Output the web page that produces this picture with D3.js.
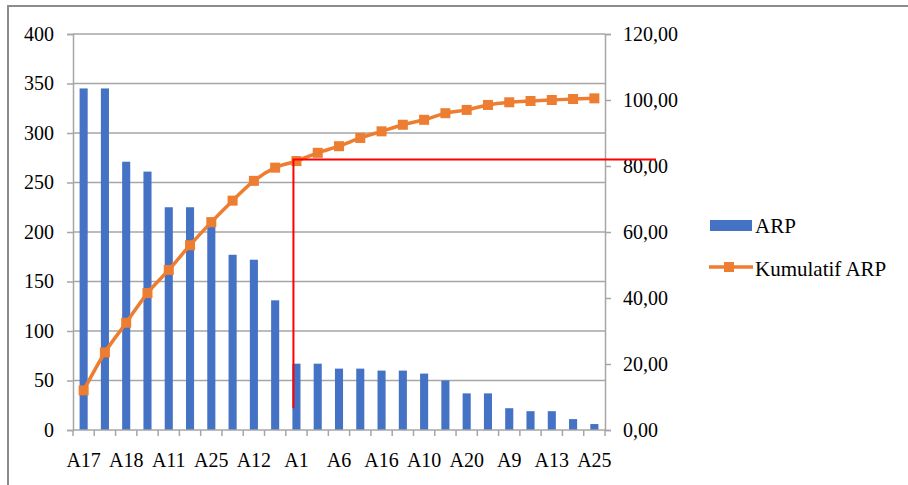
<!DOCTYPE html>
<html><head><meta charset="utf-8">
<script src="https://cdn.jsdelivr.net/npm/d3@7"></script>
<style>body{margin:0;background:#fff;}svg{display:block;} text{font-family:"Liberation Serif","Times New Roman",serif;}</style>
</head><body>
<svg id="c" width="908" height="485"></svg>
<script>
// Categories (only every other label is readable in the reference; hidden ones left blank)
const categoryLabels = ["A17","","A18","","A11","","A25","","A12","","A1","","A6","","A16","","A10","","A20","","A9","","A13","","A25"];
const arpValues = [345,345,271,261,225,225,205,177,172,131,67,67,62,62,60,60,57,50,37,37,22,19,19,11,6];
const kumulatifValues = [12,23.5,32.5,41.5,48.5,56,63,69.5,75.5,79.5,81.5,84,86,88.5,90.5,92.5,94,96,97,98.5,99.3,99.7,100,100.3,100.5];
const leftTicks = [0,50,100,150,200,250,300,350,400];
const rightTicks = [0,20,40,60,80,100,120];
const paretoIndex = 10, paretoLevel = 82, paretoBottom = 22;
const seriesNames = ["ARP","Kumulatif ARP"];

const svg = d3.select("#c");
const m = {l:73, r:605, t:34, b:430};
const idx = d3.range(arpValues.length);
const x = d3.scaleBand().domain(idx).range([m.l, m.r]).paddingInner(0.62).paddingOuter(0.31);
const xb = d3.scaleBand().domain(idx).range([m.l, m.r]);
const yL = d3.scaleLinear().domain([0,400]).range([m.b, m.t]);
const yR = d3.scaleLinear().domain([0,120]).range([m.b, m.t]);
const grey = "#a6a6a6";
const font = "'Liberation Serif', 'Times New Roman', serif";
const fs = 20;

// outer frame (top and left)
svg.append("path").attr("d","M8,485 V6 H908").attr("fill","none").attr("stroke","#8c8c8c").attr("stroke-width",2);

// gridlines
svg.append("g").selectAll("line").data(leftTicks.filter(d=>d>0)).join("line")
  .attr("x1",m.l).attr("x2",m.r).attr("y1",d=>yL(d)).attr("y2",d=>yL(d))
  .attr("stroke",grey).attr("stroke-width",1.5);

// left axis
const gL = svg.append("g").attr("transform",`translate(${m.l},0)`)
  .call(d3.axisLeft(yL).tickValues(leftTicks).tickSize(6).tickPadding(13).tickFormat(d3.format("d")));
gL.attr("font-family",null).attr("font-size",null);
gL.select(".domain").attr("stroke",grey).attr("stroke-width",1.5);
gL.selectAll(".tick line").attr("stroke",grey).attr("stroke-width",1.5);
gL.selectAll("text").style("font-family",font).style("font-size",fs+"px").attr("fill","#000");

// right axis
const fmtR = d => d3.format(".2f")(d).replace(".",",");
const gR = svg.append("g").attr("transform",`translate(${m.r},0)`)
  .call(d3.axisRight(yR).tickValues(rightTicks).tickSize(6).tickPadding(12).tickFormat(fmtR));
gR.attr("font-family",null).attr("font-size",null);
gR.select(".domain").attr("stroke",grey).attr("stroke-width",1.5);
gR.selectAll(".tick line").attr("stroke",grey).attr("stroke-width",1.5);
gR.selectAll("text").style("font-family",font).style("font-size",fs+"px").attr("fill","#000");

// bars
svg.append("g").selectAll("rect").data(arpValues).join("rect")
  .attr("x",(d,i)=>x(i)).attr("width",x.bandwidth())
  .attr("y",d=>yL(d)).attr("height",d=>yL(0)-yL(d)).attr("fill","#4472c4");

// x axis
const gX = svg.append("g").attr("transform",`translate(0,${m.b})`);
gX.append("line").attr("x1",m.l).attr("x2",m.r).attr("stroke",grey).attr("stroke-width",1.5);
gX.selectAll("line.tk").data(d3.range(arpValues.length+1)).join("line").attr("class","tk")
  .attr("x1",i=>m.l+i*xb.step()).attr("x2",i=>m.l+i*xb.step()).attr("y1",0).attr("y2",6)
  .attr("stroke",grey).attr("stroke-width",1.5);
gX.selectAll("text.lb").data(categoryLabels).join("text").attr("class","lb")
  .attr("x",(d,i)=>xb(i)+xb.bandwidth()/2).attr("y",37).attr("text-anchor","middle")
  .style("font-family",font).style("font-size",fs+"px").attr("fill","#000").text(d=>d);

// cumulative line
const cx = i => xb(i)+xb.bandwidth()/2;
svg.append("path").datum(kumulatifValues)
  .attr("d",d3.line().x((d,i)=>cx(i)).y(d=>yR(d)).curve(d3.curveMonotoneX))
  .attr("fill","none").attr("stroke","#ed7d31").attr("stroke-width",3.5);
svg.append("g").selectAll("rect").data(kumulatifValues).join("rect")
  .attr("x",(d,i)=>cx(i)-5).attr("y",d=>yR(d)-5).attr("width",10).attr("height",10).attr("fill","#ed7d31");

// red pareto annotation
const px = cx(paretoIndex)-3;
svg.append("path")
  .attr("d",`M${px},${yL(paretoBottom)} V${yR(paretoLevel)} H656`)
  .attr("fill","none").attr("stroke","#ff0000").attr("stroke-width",2);

// legend
const lg = svg.append("g");
lg.append("rect").attr("x",710).attr("y",220).attr("width",42).attr("height",11).attr("fill","#4472c4");
lg.append("text").attr("x",755).attr("y",233).style("font-family",font).style("font-size","21px").text(seriesNames[0]);
lg.append("line").attr("x1",709).attr("x2",753).attr("y1",267).attr("y2",267).attr("stroke","#ed7d31").attr("stroke-width",3.5);
lg.append("rect").attr("x",724).attr("y",262).attr("width",10).attr("height",10).attr("fill","#ed7d31");
lg.append("text").attr("x",755).attr("y",276).style("font-family",font).style("font-size","21px").text(seriesNames[1]);
</script>
</body></html>
